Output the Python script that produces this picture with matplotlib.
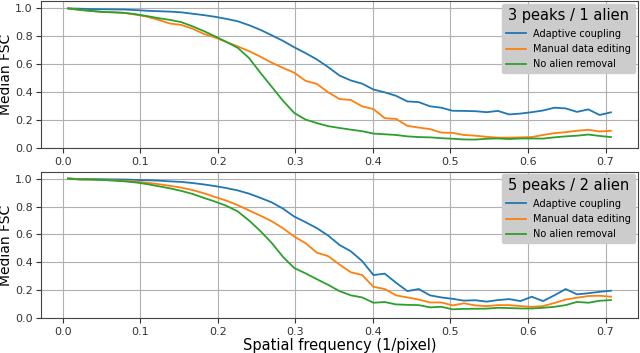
import numpy as np
import matplotlib
matplotlib.use("Agg")
import matplotlib.pyplot as plt

# spatial frequency grid (1/pixel)
freq = np.linspace(0.007, 0.707, 49)

# 3 peaks / 1 alien
top_adaptive = [1.0, 0.998, 0.995, 0.994, 0.993, 0.992, 0.988, 0.983, 0.980, 0.977,
                0.972, 0.962, 0.952, 0.940, 0.925, 0.908, 0.880, 0.847, 0.808, 0.768,
                0.722, 0.680, 0.635, 0.580, 0.520, 0.485, 0.462, 0.420, 0.400, 0.375,
                0.335, 0.330, 0.300, 0.290, 0.268, 0.267, 0.265, 0.258, 0.267, 0.242,
                0.248, 0.258, 0.270, 0.290, 0.285, 0.260, 0.278, 0.238, 0.257]
top_manual = [1.0, 0.990, 0.982, 0.975, 0.972, 0.968, 0.955, 0.940, 0.918, 0.892,
              0.882, 0.855, 0.818, 0.792, 0.760, 0.728, 0.695, 0.655, 0.612, 0.575,
              0.540, 0.482, 0.460, 0.400, 0.352, 0.345, 0.300, 0.280, 0.215, 0.210,
              0.160, 0.148, 0.137, 0.112, 0.110, 0.095, 0.090, 0.082, 0.076, 0.076,
              0.078, 0.080, 0.095, 0.108, 0.115, 0.125, 0.132, 0.120, 0.125]
top_none = [1.0, 0.990, 0.982, 0.975, 0.972, 0.968, 0.958, 0.945, 0.930, 0.918,
            0.902, 0.872, 0.838, 0.800, 0.760, 0.718, 0.645, 0.540, 0.440, 0.340,
            0.252, 0.205, 0.180, 0.158, 0.145, 0.133, 0.122, 0.105, 0.100, 0.095,
            0.085, 0.080, 0.078, 0.072, 0.068, 0.063, 0.062, 0.068, 0.070, 0.066,
            0.070, 0.070, 0.069, 0.078, 0.085, 0.090, 0.098, 0.088, 0.080]

# 5 peaks / 2 alien
bot_adaptive = [1.0, 0.997, 0.996, 0.995, 0.994, 0.993, 0.990, 0.988, 0.985, 0.980,
                0.976, 0.968, 0.958, 0.946, 0.932, 0.915, 0.892, 0.862, 0.830, 0.785,
                0.728, 0.688, 0.645, 0.592, 0.525, 0.480, 0.410, 0.310, 0.320, 0.255,
                0.195, 0.210, 0.165, 0.150, 0.140, 0.127, 0.130, 0.120, 0.131, 0.138,
                0.124, 0.155, 0.124, 0.165, 0.210, 0.172, 0.180, 0.190, 0.198]
bot_manual = [1.0, 0.995, 0.993, 0.990, 0.987, 0.984, 0.978, 0.970, 0.960, 0.948,
              0.935, 0.918, 0.895, 0.868, 0.842, 0.810, 0.772, 0.735, 0.695, 0.645,
              0.585, 0.538, 0.470, 0.445, 0.385, 0.330, 0.310, 0.226, 0.210, 0.165,
              0.150, 0.135, 0.114, 0.114, 0.093, 0.108, 0.093, 0.088, 0.095, 0.095,
              0.088, 0.083, 0.088, 0.110, 0.135, 0.148, 0.160, 0.162, 0.155]
bot_none = [1.0, 0.993, 0.993, 0.990, 0.986, 0.980, 0.972, 0.960, 0.945, 0.930,
            0.912, 0.890, 0.862, 0.835, 0.805, 0.765, 0.700, 0.625, 0.540, 0.440,
            0.360, 0.322, 0.280, 0.240, 0.195, 0.165, 0.150, 0.112, 0.117, 0.100,
            0.097, 0.095, 0.079, 0.083, 0.065, 0.068, 0.069, 0.070, 0.076, 0.074,
            0.071, 0.071, 0.076, 0.083, 0.095, 0.118, 0.112, 0.126, 0.131]

labels = ['Adaptive coupling', 'Manual data editing', 'No alien removal']
titles = ['3 peaks / 1 alien', '5 peaks / 2 alien']
colors = ['#1f77b4', '#ff7f0e', '#2ca02c']

fig = plt.figure(figsize=(6.4, 3.53), dpi=100)
ax_top = fig.add_axes([0.064, 0.580, 0.933, 0.416])
ax_bot = fig.add_axes([0.064, 0.098, 0.933, 0.416])

panels = [(ax_top, [top_adaptive, top_manual, top_none], titles[0]),
          (ax_bot, [bot_adaptive, bot_manual, bot_none], titles[1])]

for ax, series, title in panels:
    for vals, lab, col in zip(series, labels, colors):
        ax.plot(freq, vals, color=col, lw=1.3, label=lab)
    ax.set_ylim(0, 1.05)
    ax.set_xticks([0.0, 0.1, 0.2, 0.3, 0.4, 0.5, 0.6, 0.7])
    ax.set_yticks([0.0, 0.2, 0.4, 0.6, 0.8, 1.0])
    ax.grid(True, color='#b0b0b0', lw=0.8)
    ax.tick_params(labelsize=8, colors='#333333', pad=2.5)
    for s in ax.spines.values():
        s.set_color('#444444')
    ax.set_ylabel('Median FSC', fontsize=10, labelpad=1)
    ax.legend(title=title, loc='upper right', fontsize=7,
              title_fontsize=10.5, frameon=True, fancybox=True,
              facecolor='#cccccc', edgecolor='#cccccc', framealpha=1.0,
              borderaxespad=0.3, handlelength=2.0, labelspacing=0.55)

ax_bot.set_xlabel('Spatial frequency (1/pixel)', fontsize=10.5, labelpad=1)

fig.savefig('out.png', dpi=100)
